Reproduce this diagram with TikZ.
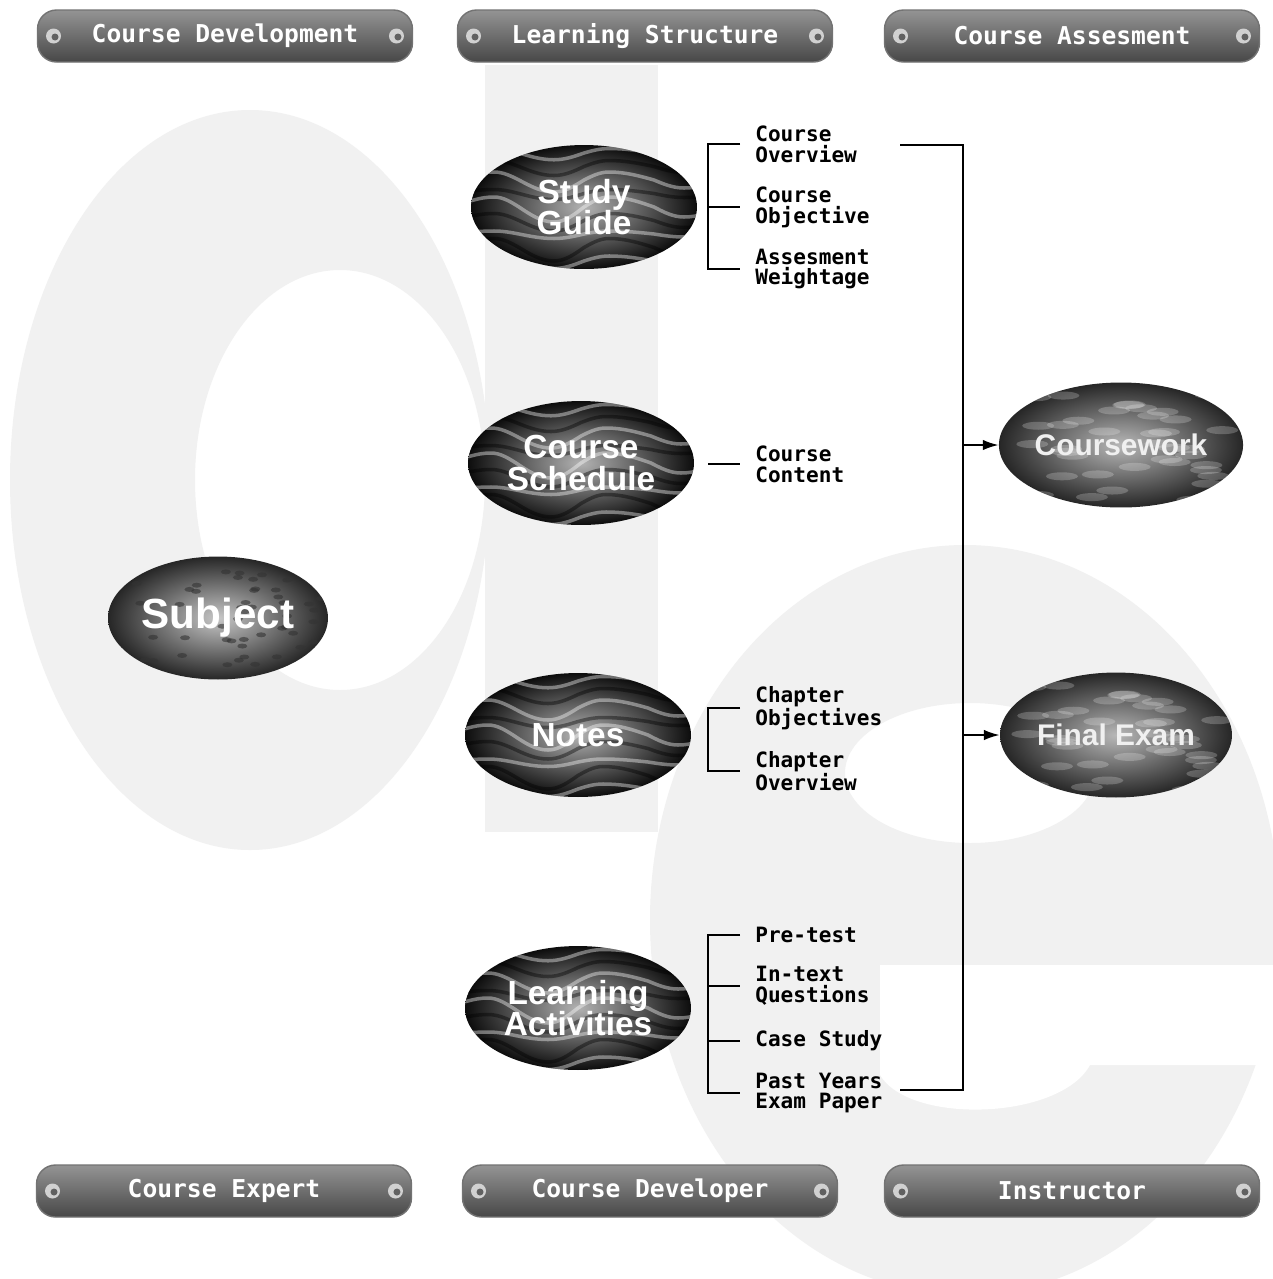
\documentclass[tikz,border=0pt]{standalone}
\usepackage{fontspec}
\setmainfont{Liberation Sans}
\newfontfamily\pixelfont{DejaVu Sans Mono}
\usepackage{tikz}
\usetikzlibrary{arrows.meta, shapes.geometric}
\definecolor{bgtone}{HTML}{F1F1F1}

\tikzset{
  banner/.style={rounded corners=0.38cm, minimum width=7.5cm, minimum height=1.04cm,
    top color=black!42, bottom color=black!72, draw=black!55, line width=0.8pt,
    text=white, font=\pixelfont\bfseries\fontsize{14}{14}\selectfont,
    path picture={
      \foreach \side/\dir in {west/1,east/-1}{
        \fill[black!18] ([xshift=\dir*0.32cm]path picture bounding box.\side) circle (0.15cm);
        \fill[black!62] ([xshift=\dir*0.32cm+0.03cm, yshift=-0.02cm]path picture bounding box.\side) circle (0.07cm);
      }}},
  item/.style={anchor=west, inner xsep=0.3cm, inner ysep=1pt, align=left,
    font=\pixelfont\bfseries\fontsize{12}{11.9}\selectfont},
  bracket/.style={line width=1.6pt},
  link/.style={line width=1.1pt, -{Latex[length=9pt,width=6pt]}},
  oval/.style={ellipse, inner sep=0pt, minimum width=4.52cm, minimum height=2.48cm,
    text=white, align=center, font=\bfseries\fontsize{19}{18}\selectfont},
  marble/.style={oval, inner color=black!30, outer color=black!95, path picture={
    \foreach \k/\c/\a in {-4/white/0.10,-3/black/0.18,-2/white/0.06,-1/black/0.14,0/white/0.20,
                          1/black/0.08,2/white/0.16,3/black/0.12,4/white/0.09}
      \draw[\c, opacity=.4, line width=2pt]
        ([shift={(-2.6cm,\k*0.27cm)}]path picture bounding box.center)
        sin ++(0.8cm,\a cm) cos ++(0.5cm,-\a cm) sin ++(0.7cm,-1.5*\a cm) cos ++(0.6cm,1.5*\a cm)
        sin ++(0.5cm,\a cm) cos ++(0.9cm,-\a cm) sin ++(0.6cm,-\a cm) cos ++(0.8cm,\a cm);
    }},
  spotted/.style={oval, minimum width=4.4cm, minimum height=2.46cm, inner color=black!22,
    outer color=black!85, font=\bfseries\fontsize{24}{24}\selectfont, path picture={
    \pgfmathsetseed{11}
    \foreach \i in {1,...,50}{
      \pgfmathsetmacro\sx{2.1*rand}\pgfmathsetmacro\sy{1.1*rand}
      \fill[black!80, opacity=.6] ([shift={(\sx cm,\sy cm)}]path picture bounding box.center)
        ellipse [x radius=0.1cm, y radius=0.05cm];
    }}},
  stone/.style={oval, minimum width=4.64cm, minimum height=2.5cm, inner color=black!28,
    outer color=black!85, text=black!6, font=\bfseries\fontsize{17}{17}\selectfont, path picture={
    \pgfmathsetseed{5}
    \foreach \i in {1,...,40}{
      \pgfmathsetmacro\sx{2.2*rand}\pgfmathsetmacro\sy{1.1*rand}
      \fill[white, opacity=.22] ([shift={(\sx cm,\sy cm)}]path picture bounding box.center)
        ellipse [x radius=0.32cm, y radius=0.08cm];
    }}}
}

\begin{document}
\begin{tikzpicture}[x=0.02cm, y=-0.02cm]
  \clip (0,0) rectangle (1273,1279);
  \fill[white] (0,0) rectangle (1273,1279);

  % faint letters behind
  \fill[bgtone, even odd rule] (250,480) ellipse [x radius=240, y radius=370]
    (340,480) ellipse [x radius=145, y radius=210];
  \fill[bgtone] (485,65) rectangle (658,832);
  \fill[bgtone, even odd rule] (965,920) ellipse [x radius=315, y radius=375]
    (970,773) ellipse [x radius=125, y radius=70];
  \fill[white] (880,965) -- (1280,965) -- (1280,1065) -- (1090,1065)
    .. controls (1060,1120) and (910,1125) .. (880,1075) -- cycle;

  % role banners
  \node[banner] (dev) at (225,36) {Course Development};
  \node[banner] (struct) at (645,36) {Learning Structure};
  \node[banner] (assess) at (1072,36) {Course Assesment};
  \node[banner] (expert) at (224,1191) {Course Expert};
  \node[banner] (developer) at (650,1191) {Course Developer};
  \node[banner] (instr) at (1072,1191) {Instructor};

  \node[marble] (sg) at (584,207) {Study\\Guide};
  \node[marble] (cs) at (581,463) {Course\\Schedule};
  \node[marble] (nt) at (578,735) {Notes};
  \node[marble] (la) at (578,1008) {Learning\\Activities};
  \node[spotted] (subj) at (218,618) {Subject};
  \node[stone] (cw) at (1121,445) {Coursework};
  \node[stone] (fe) at (1116,735) {Final Exam};

  \node[item] (ovw) at (740,144) {Course\\Overview};
  \node[item] (obj) at (740,207) {Course\\Objective};
  \node[item] (wgt) at (740,269) {Assesment\\Weightage};
  \node[item] (cnt) at (740,464) {Course\\Content};
  \node[item] (chobj) at (740,708) {Chapter\\Objectives};
  \node[item] (chovw) at (740,771) {Chapter\\Overview};
  \node[item] (pre) at (740,935) {Pre-test};
  \node[item] (itq) at (740,986) {In-text\\Questions};
  \node[item] (case) at (740,1041) {Case Study};
  \node[item] (past) at (740,1093) {Past Years\\Exam Paper};

  \coordinate (bar) at (708,0);
  \draw[bracket] (ovw.west) -- (bar |- ovw.west) -- (bar |- wgt.west) -- (wgt.west);
  \draw[bracket] (bar |- obj.west) -- (obj.west);
  \draw[bracket] (bar |- cnt.west) -- (cnt.west);
  \draw[bracket] (chobj.west) -- (bar |- chobj.west) -- (bar |- chovw.west) -- (chovw.west);
  \draw[bracket] (pre.west) -- (bar |- pre.west) -- (bar |- past.west) -- (past.west);
  \draw[bracket] (bar |- itq.west) -- (itq.west);
  \draw[bracket] (bar |- case.west) -- (case.west);

  \coordinate (spine) at (963,0);
  \coordinate (sptop) at (900,145);
  \coordinate (spbot) at (900,1090);
  \draw[bracket] (sptop) -- (spine |- sptop) -- (spine |- spbot) -- (spbot);
  \draw[link] (spine |- cw.west) -- (cw.west);
  \draw[link] (spine |- fe.west) -- (fe.west);
\end{tikzpicture}
\end{document}
